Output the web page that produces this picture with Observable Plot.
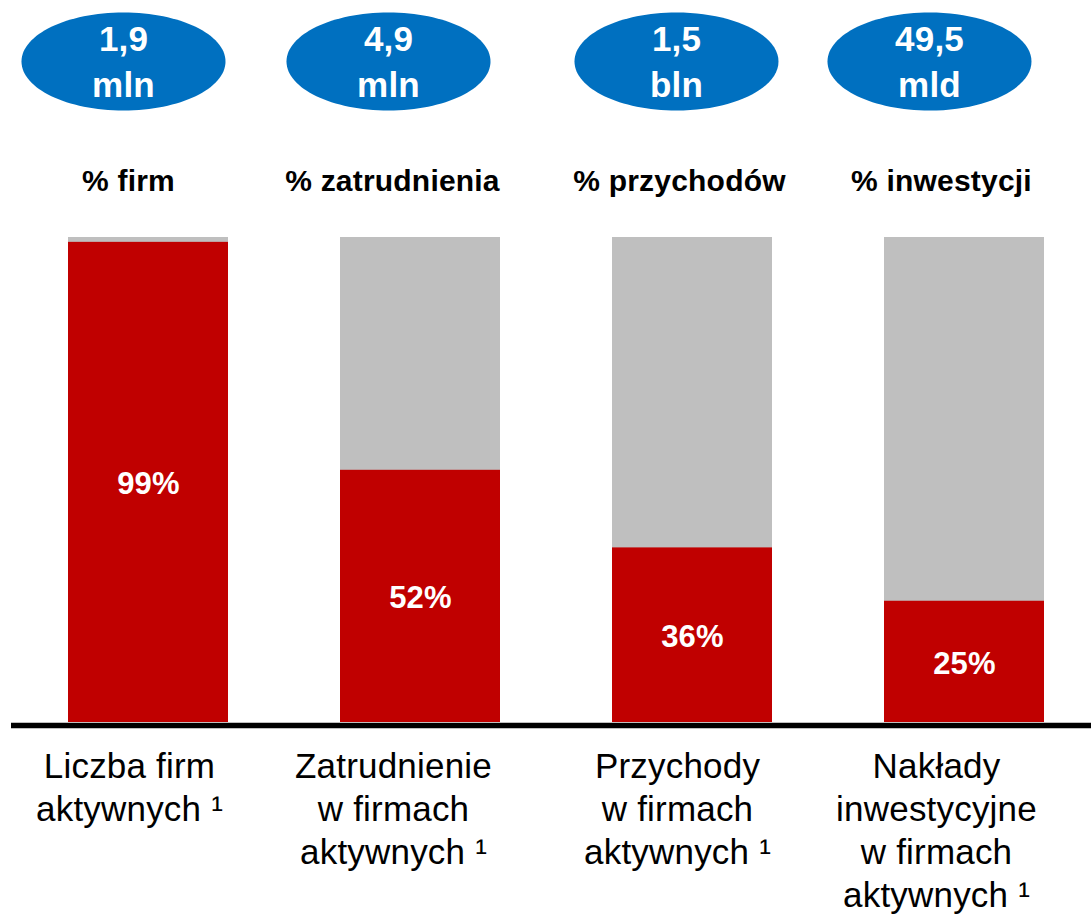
<!DOCTYPE html>
<html><head><meta charset="utf-8">
<script src="https://cdn.jsdelivr.net/npm/d3@7"></script>
<script src="https://cdn.jsdelivr.net/npm/@observablehq/plot@0.6"></script>
<style>body{margin:0;background:#fff;}</style>
</head><body><div id="chart"></div>
<script>
const categories = ["Liczba firm", "Zatrudnienie", "Przychody", "Nakłady"];
const shares = [99, 52, 36, 25];
const totals = ["1,9\nmln", "4,9\nmln", "1,5\nbln", "49,5\nmld"];
const headers = ["% firm", "% zatrudnienia", "% przychodów", "% inwestycji"];
const labels = [
  "Liczba firm\naktywnych ¹",
  "Zatrudnienie\nw firmach\naktywnych ¹",
  "Przychody\nw firmach\naktywnych ¹",
  "Nakłady\ninwestycyjne\nw firmach\naktywnych ¹"
];

const rows = categories.map((c, i) => ({cat: c, share: shares[i], total: totals[i], header: headers[i], label: labels[i]}));

// horizontal offsets of the annotation columns relative to bar centres (layout)
const shiftEllipse = [-25, -32, -16, -35];
const shiftHeader = [-20, -28, -13, -23];
const shiftLabel = [-19, -27, -15, -28];

const RED = "#C00000", GRAY = "#BFBFBF", BLUE = "#0070C0";

const ellipseSymbol = {
  draw(ctx) {
    const rx = 102, ry = 49, k = 0.5523;
    ctx.moveTo(rx, 0);
    ctx.bezierCurveTo(rx, ry * k, rx * k, ry, 0, ry);
    ctx.bezierCurveTo(-rx * k, ry, -rx, ry * k, -rx, 0);
    ctx.bezierCurveTo(-rx, -ry * k, -rx * k, -ry, 0, -ry);
    ctx.bezierCurveTo(rx * k, -ry, rx, -ry * k, rx, 0);
    ctx.closePath();
  }
};

const annotationMarks = rows.flatMap((d, i) => [
  Plot.dot([d], {x: "cat", frameAnchor: "top", dy: -176, symbol: ellipseSymbol, fill: BLUE, stroke: "none", dx: shiftEllipse[i]}),
  Plot.text([d], {x: "cat", text: "total", frameAnchor: "top", lineAnchor: "top", dy: -220, dx: shiftEllipse[i],
    fill: "white", fontSize: 35, fontWeight: "bold", lineHeight: 1.33}),
  Plot.text([d], {x: "cat", text: "header", frameAnchor: "top", lineAnchor: "top", dy: -68, dx: shiftHeader[i],
    fill: "black", fontSize: 30, fontWeight: "bold"}),
  Plot.text([d], {x: "cat", text: "label", frameAnchor: "bottom", lineAnchor: "top", dy: 25, dx: shiftLabel[i],
    fill: "black", fontSize: 35, lineHeight: 1.23})
]);

const chart = Plot.plot({
  width: 1091,
  height: 918,
  marginLeft: 67,
  marginRight: 46,
  marginTop: 237,
  marginBottom: 196,
  style: {fontFamily: "'Liberation Sans', Arial, sans-serif", background: "white", letterSpacing: "0.02em"},
  x: {domain: categories, paddingInner: 0.413, paddingOuter: 0, axis: null},
  y: {domain: [0, 100], axis: null},
  marks: [
    Plot.barY(rows, {x: "cat", y: () => 100, fill: GRAY}),
    Plot.barY(rows, {x: "cat", y: "share", fill: RED}),
    Plot.text(rows, {x: "cat", y: d => d.share / 2, text: d => d.share + "%", fill: "white",
      fontSize: 31, fontWeight: "bold", lineAnchor: "middle", dy: 2}),
    Plot.ruleY([0], {stroke: "black", strokeWidth: 5.5, dy: 3, insetLeft: -56, insetRight: -46}),
    ...annotationMarks
  ]
});
document.getElementById("chart").append(chart);
</script>
</body></html>
